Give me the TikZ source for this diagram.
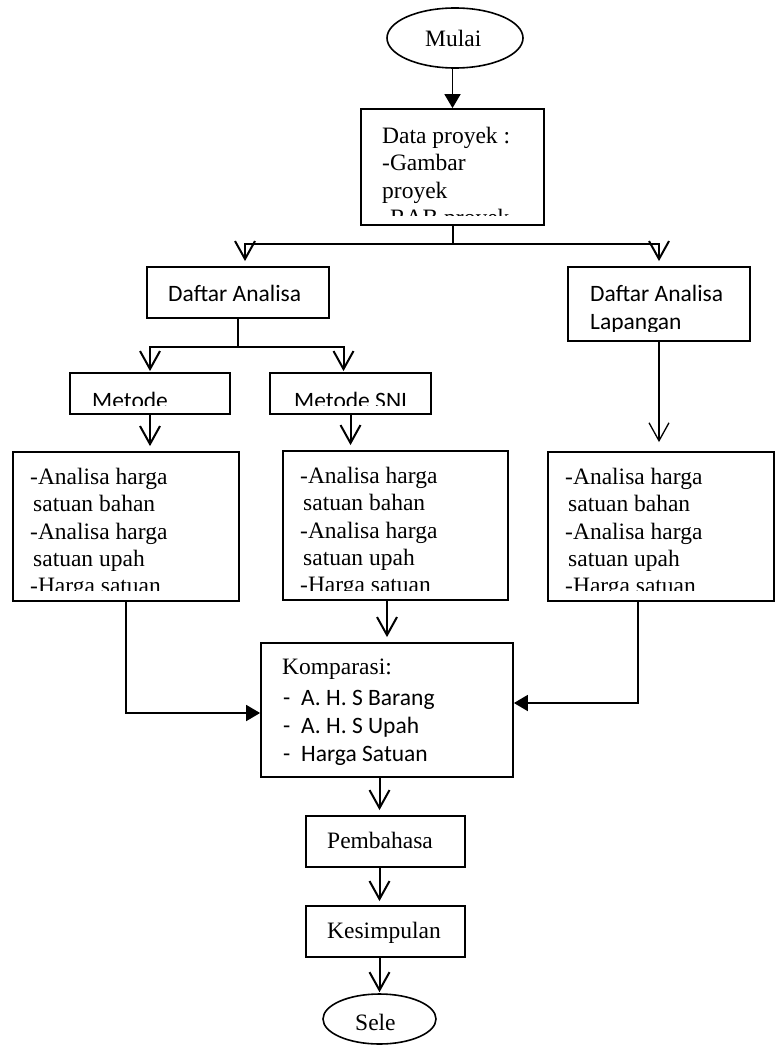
\documentclass[tikz,border=0pt]{standalone}
\usepackage{fontspec}
\setmainfont{Liberation Serif}
\newfontfamily\calibri{Carlito}
\usetikzlibrary{arrows.meta,calc,shapes.geometric}

\newcommand\listdash{\makebox[18pt][l]{-}}
\newcommand\firstline{\rule{0pt}{18pt}}

\tikzset{
  box/.style={draw, line width=1.8pt, inner sep=0pt},
  oval/.style={ellipse, draw, line width=1.6pt, inner sep=0pt},
  serif/.style={font=\fontsize{23.5}{27.4}\selectfont, align=left, inner sep=0pt},
  sans/.style={font=\calibri\fontsize{23.5}{28}\selectfont, align=left, inner sep=0pt},
  vee/.style={-{Straight Barb[width=20pt,length=18pt]}, line width=2pt},
  tri/.style={-{Triangle[width=16pt,length=14pt]}, line width=1.8pt},
}

\begin{document}
\begin{tikzpicture}[x=1pt,y=-1pt]
\useasboundingbox (0,0) rectangle (780,1046);

% shapes
\node[oval, minimum width=136pt, minimum height=60pt] (mulai) at (455,38) {};
\node[box, minimum width=183pt, minimum height=116pt] (data) at (452.5,167) {};
\node[box, minimum width=182pt, minimum height=51pt] (daftar) at (238,292.5) {};
\node[box, minimum width=182pt, minimum height=74pt] (lap) at (659,304) {};
\node[box, minimum width=160pt, minimum height=41pt] (metode) at (150,393.5) {};
\node[box, minimum width=161pt, minimum height=41pt] (sni) at (350.5,393.5) {};
\node[box, minimum width=226pt, minimum height=149pt] (anL) at (126,526.5) {};
\node[box, minimum width=225pt, minimum height=149pt] (anM) at (395.5,525.5) {};
\node[box, minimum width=226pt, minimum height=149pt] (anR) at (661,526.5) {};
\node[box, minimum width=252pt, minimum height=134pt] (komp) at (387,710) {};
\node[box, minimum width=159pt, minimum height=51pt] (pem) at (385.5,841.5) {};
\node[box, minimum width=159pt, minimum height=51pt] (kes) at (385.5,931.5) {};
\node[oval, minimum width=113pt, minimum height=50pt] (sele) at (379.5,1019) {};

% texts
\node[serif, anchor=base west] at (425,47) {Mulai};
\begin{scope}
  \clip (data.north west) rectangle ($(data.south east)+(0,-10)$);
  \node[serif, anchor=north west] at (382,125) {\firstline Data proyek :\\-Gambar\\proyek\\-RAB proyek};
\end{scope}
\node[sans, anchor=base west] at (168,301) {Daftar Analisa};
\begin{scope}
  \clip (lap.north west) rectangle ($(lap.south east)+(0,-10)$);
  \node[sans, anchor=north west] at (590,283) {\firstline Daftar Analisa\\Lapangan};
\end{scope}
\begin{scope}
  \clip (metode.north west) rectangle ($(sni.south east)+(0,-9)$);
  \node[sans, anchor=base west] at (92,408) {Metode};
  \node[sans, anchor=base west] at (294,408) {Metode SNI};
\end{scope}
\begin{scope}
  \clip (anL.north west) rectangle ($(anR.south east)+(0,-11)$);
  \node[serif, anchor=north west] at (30,466) {\firstline -Analisa harga\\\hspace*{3pt}satuan bahan\\-Analisa harga\\\hspace*{3pt}satuan upah\\-Harga satuan};
  \node[serif, anchor=north west] at (300,465) {\firstline -Analisa harga\\\hspace*{3pt}satuan bahan\\-Analisa harga\\\hspace*{3pt}satuan upah\\-Harga satuan};
  \node[serif, anchor=north west] at (565,466) {\firstline -Analisa harga\\\hspace*{3pt}satuan bahan\\-Analisa harga\\\hspace*{3pt}satuan upah\\-Harga satuan};
\end{scope}
\node[serif, anchor=base west] at (282,674) {Komparasi:};
\node[sans, anchor=north west] at (283,687) {\firstline\listdash A. H. S Barang\\\listdash A. H. S Upah\\\listdash Harga Satuan};
\node[serif, anchor=base west] at (327,848) {Pembahasa};
\node[serif, anchor=base west] at (327,938) {Kesimpulan};
\node[serif, anchor=base west] at (355,1030) {Sele};

% connectors
\draw[tri] (data.north |- mulai.south) -- (data.north);
\draw[vee, shorten >=5pt] (data.south) -- ++(0,18) -| ([xshift=7pt]daftar.north);
\draw[vee, shorten >=5pt] (data.south) -- ++(0,18) -| (lap.north);
\draw[vee, shorten >=1pt] (daftar.south) -- ++(0,28) -| (metode.north);
\draw[vee, shorten >=1pt] (daftar.south) -- ++(0,28) -| ([xshift=-7pt]sni.north);
\draw[vee, shorten >=5pt] (metode.south) -- (metode.south |- anL.north);
\draw[vee, shorten >=5pt] (sni.south) -- (sni.south |- anM.north);
\draw[vee, line width=1.3pt, shorten >=9pt] (lap.south) -- (lap.south |- anR.north);
\draw[tri] (anL.south) |- ([yshift=-3pt]komp.west);
\draw[vee, shorten >=5pt] (anM.south -| komp.north) -- (komp.north);
\draw[tri] ([xshift=-23pt]anR.south) |- ([yshift=7pt]komp.east);
\draw[vee, shorten >=5pt] (komp.south -| sele.north) -- (pem.north -| sele.north);
\draw[vee, shorten >=4pt] (pem.south -| sele.north) -- (kes.north -| sele.north);
\draw[vee, shorten >=1pt] (kes.south -| sele.north) -- (sele.north);
\end{tikzpicture}
\end{document}
